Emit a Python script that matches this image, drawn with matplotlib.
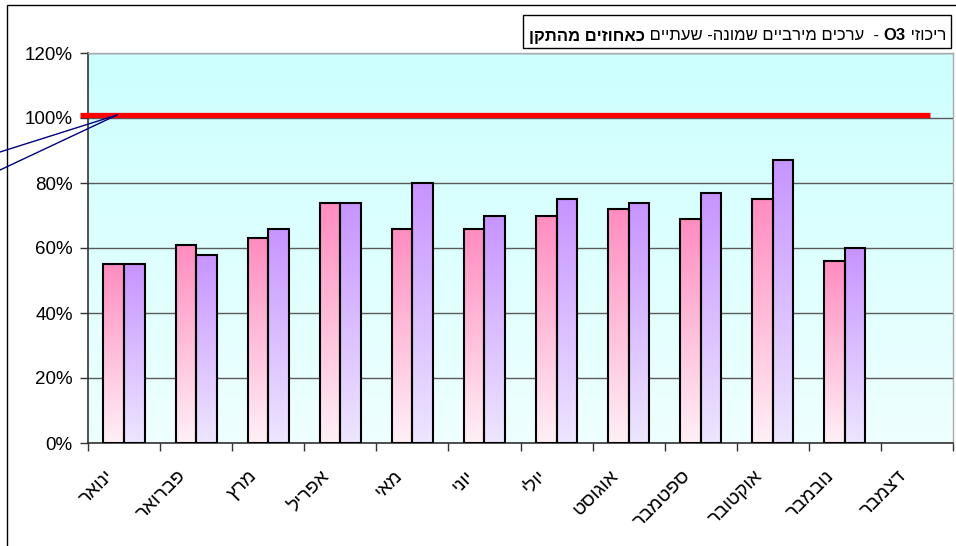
import numpy as np
import matplotlib
matplotlib.use('Agg')
import matplotlib.pyplot as plt
from matplotlib.colors import LinearSegmentedColormap
from matplotlib.patches import Rectangle
from matplotlib.lines import Line2D
import matplotlib.transforms as mtransforms

plt.rcParams['font.family'] = ['Liberation Sans', 'DejaVu Sans']

months = ['ינואר', 'פברואר', 'מרץ', 'אפריל', 'מאי', 'יוני',
          'יולי', 'אוגוסט', 'ספטמבר', 'אוקטובר', 'נובמבר', 'דצמבר']
series_a = [55, 61, 63, 74, 66, 66, 70, 72, 69, 75, 56, None]
series_b = [55, 58, 66, 74, 80, 70, 75, 74, 77, 87, 60, None]
standard_line = 101
y_ticks = [0, 20, 40, 60, 80, 100, 120]

# title pieces in reading order (text, bold)
title_parts = [('ריכוזי ', False), ('O3', True),
               (' -  ערכים מירביים שמונה- שעתיים ', False),
               ('כאחוזים מהתקן', True)]


def heb(s):
    # matplotlib lays text left to right, so flip hebrew for display
    return s[::-1]


W, H = 956, 546
fig = plt.figure(figsize=(W / 100, H / 100), dpi=100)
ax = fig.add_axes([88 / W, 1 - 443 / H, (953 - 88) / W, (443 - 53) / H])

# plot area gradient
bg = LinearSegmentedColormap.from_list('bg', ['#eefffe', '#ccffff'])
grad = np.linspace(0, 1, 256).reshape(-1, 1)
ax.imshow(grad, cmap=bg, origin='lower', extent=(-0.5, 11.5, 0, 120),
          aspect='auto', zorder=0)

pink = LinearSegmentedColormap.from_list('pink', ['#fff0f6', '#ff8cc0'])
purple = LinearSegmentedColormap.from_list('purple', ['#eee6ff', '#c794ff'])

width = 0.285
for i in range(len(months)):
    for val, off, cm in ((series_a[i], -0.143, pink), (series_b[i], 0.143, purple)):
        if val is None:
            continue
        x0 = i + off - width / 2
        ax.imshow(grad, cmap=cm, origin='lower', extent=(x0, x0 + width, 0, val),
                  aspect='auto', zorder=3)
        ax.add_patch(Rectangle((x0, 0), width, val, fill=False,
                               edgecolor='black', linewidth=1.5, zorder=4))

# standard line (spills a bit past the plot edge like the original)
ax.plot([-0.61, 11.18], [standard_line, standard_line], color='#ff0000',
        linewidth=3.8, solid_capstyle='butt', clip_on=False, zorder=5)

ax.set_xlim(-0.5, 11.5)
ax.set_ylim(0, 120)
ax.set_yticks(y_ticks)
ax.set_yticklabels(['%d%%' % t for t in y_ticks])
ax.yaxis.grid(True, color='#5a5a5a', linewidth=1)
ax.set_axisbelow(True)
for gl in ax.get_ygridlines():
    gl.set_zorder(1)

ax.set_xticks(np.arange(-0.5, 12, 1))
ax.set_xticklabels([])
ax.set_xticks(np.arange(12), minor=True)
ax.set_xticklabels([heb(m) for m in months], minor=True, rotation=45,
                   ha='right', va='center', rotation_mode='anchor', fontsize=14)
ax.tick_params(axis='x', which='major', length=6, width=1, color='#333333')
ax.tick_params(axis='x', which='minor', length=0, pad=22)
ax.tick_params(axis='y', length=6, width=1, color='#333333', labelsize=13.5, pad=5)
shift = mtransforms.ScaledTranslation(-13 / 100, 0, fig.dpi_scale_trans)
for lab in ax.xaxis.get_minorticklabels():
    lab.set_transform(lab.get_transform() + shift)

for s in ('left', 'bottom'):
    ax.spines[s].set_color('#333333')
    ax.spines[s].set_linewidth(1.2)
for s in ('top', 'right'):
    ax.spines[s].set_color('#aaaaaa')
    ax.spines[s].set_linewidth(1)

# outer chart frame
fig.add_artist(Rectangle((7 / W, -0.1), 1.2, 1.1 - 5 / H, transform=fig.transFigure,
                         fill=False, edgecolor='black', linewidth=1))

# leader lines from the off-chart label to the standard line
for y0 in (152, 170):
    fig.add_artist(Line2D([0, 117 / W], [1 - y0 / H, 1 - 115 / H],
                          transform=fig.transFigure, color='#000080', linewidth=1))

# title box, pieces placed right to left
fig.canvas.draw()
renderer = fig.canvas.get_renderer()
x_right = 946
left_edge = x_right
for txt, bold in title_parts:
    shown = txt if txt.isascii() else heb(txt)
    t = fig.text(left_edge / W, 1 - 36 / H, shown, ha='right', va='center',
                 fontsize=12, fontweight='bold' if bold else 'normal')
    bb = t.get_window_extent(renderer)
    left_edge -= bb.width
fig.add_artist(Rectangle(((left_edge - 6) / W, 1 - 48 / H), (951 - left_edge + 6) / W,
                         33 / H, transform=fig.transFigure, fill=True,
                         facecolor='white', edgecolor='black', linewidth=1, zorder=-1))

fig.savefig('out.png', dpi=100)
